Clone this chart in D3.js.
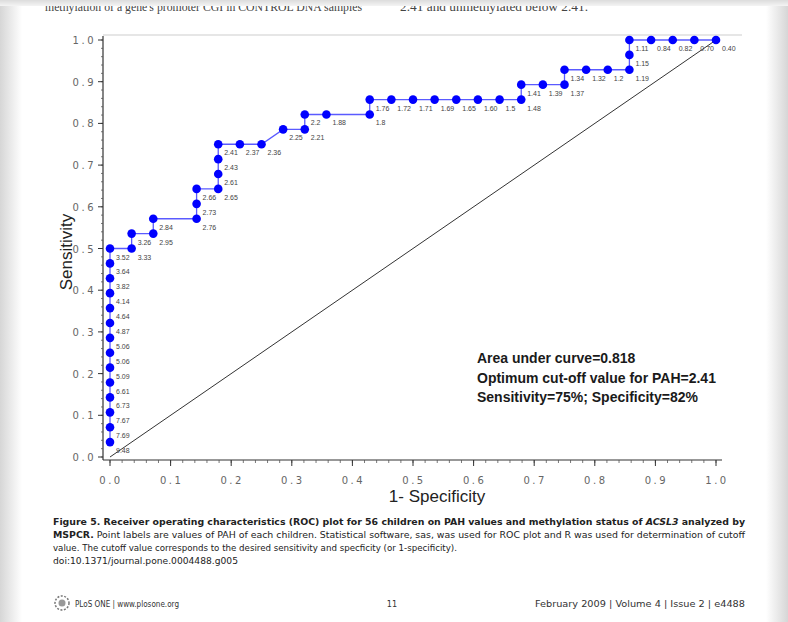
<!DOCTYPE html>
<html>
<head>
<meta charset="utf-8">
<script src="https://cdn.jsdelivr.net/npm/d3@7/dist/d3.min.js"></script>
<style>
html,body{margin:0;padding:0;background:#fff;}
svg{display:block;}
</style>
</head>
<body>
<svg id="chart" width="788" height="622"></svg>
<script>
// ---- data ----
const fpr = [0,0,0,0,0,0,0,0,0,0,0,0,0,0,
  0.0357,0.0357,0.0714,0.0714,0.1429,0.1429,0.1429,0.1786,0.1786,0.1786,0.1786,
  0.2143,0.25,0.2857,0.3214,0.3214,0.3571,0.4286,0.4286,0.4643,0.5,0.5357,0.5714,
  0.6071,0.6429,0.6786,0.6786,0.7143,0.75,0.75,0.7857,0.8214,0.8571,0.8571,0.8571,
  0.8929,0.9286,0.9643,1.0];
const tpr = [0.0357,0.0714,0.1071,0.1429,0.1786,0.2143,0.25,0.2857,0.3214,0.3571,0.3929,0.4286,0.4643,0.5,
  0.5,0.5357,0.5357,0.5714,0.5714,0.6071,0.6429,0.6429,0.6786,0.7143,0.75,
  0.75,0.75,0.7857,0.7857,0.8214,0.8214,0.8214,0.8571,0.8571,0.8571,0.8571,0.8571,
  0.8571,0.8571,0.8571,0.8929,0.8929,0.8929,0.9286,0.9286,0.9286,0.9286,0.9643,1.0,
  1.0,1.0,1.0,1.0];
const pahLabels = ["9.48","7.69","7.67","6.73","6.61","5.09","5.06","5.06","4.87","4.64","4.14","3.82","3.64","3.52",
  "3.33","3.26","2.95","2.84","2.76","2.73","2.66","2.65","2.61","2.43","2.41",
  "2.37","2.36","2.25","2.21","2.2","1.88","1.8","1.76","1.72","1.71","1.69","1.65",
  "1.60","1.5","1.48","1.41","1.39","1.37","1.34","1.32","1.2","1.19","1.15","1.11",
  "0.84","0.82","0.70","0.40"];
const xTicks = [0,0.1,0.2,0.3,0.4,0.5,0.6,0.7,0.8,0.9,1.0];
const yTicks = [0,0.1,0.2,0.3,0.4,0.5,0.6,0.7,0.8,0.9,1.0];
const xTitle = "1- Specificity";
const yTitle = "Sensitivity";
const notes = ["Area under curve=0.818","Optimum cut-off value for PAH=2.41","Sensitivity=75%; Specificity=82%"];

const svg = d3.select("#chart");

// ---- page background (scanned PDF look) ----
const defs = svg.append("defs");
const gl = defs.append("linearGradient").attr("id","gl").attr("x1",0).attr("x2",1).attr("y1",0).attr("y2",0);
gl.append("stop").attr("offset",0).attr("stop-color","#d6d6d6");
gl.append("stop").attr("offset",1).attr("stop-color","#ffffff");
const gr = defs.append("linearGradient").attr("id","gr").attr("x1",1).attr("x2",0).attr("y1",0).attr("y2",0);
gr.append("stop").attr("offset",0).attr("stop-color","#d6d6d6");
gr.append("stop").attr("offset",1).attr("stop-color","#ffffff");
const gt = defs.append("linearGradient").attr("id","gt").attr("x1",0).attr("x2",0).attr("y1",0).attr("y2",1);
gt.append("stop").attr("offset",0).attr("stop-color","#dcdcdc");
gt.append("stop").attr("offset",1).attr("stop-color","#f4f4f4");

svg.append("rect").attr("width",788).attr("height",622).attr("fill","#fff");
svg.append("rect").attr("x",0).attr("y",0).attr("width",22).attr("height",622).attr("fill","url(#gl)");
svg.append("rect").attr("x",766).attr("y",0).attr("width",22).attr("height",622).attr("fill","url(#gr)");

// top cut-off text line of the page
svg.append("text").attr("x",45).attr("y",11)
  .attr("font-family","Liberation Serif, serif").attr("font-size",11.5).attr("fill","#444")
  .attr("textLength",317).attr("lengthAdjust","spacingAndGlyphs")
  .text("methylation of a gene's promoter CGI in CONTROL DNA samples");
svg.append("text").attr("x",400).attr("y",11)
  .attr("font-family","Liberation Serif, serif").attr("font-size",11.5).attr("fill","#444")
  .attr("textLength",188).attr("lengthAdjust","spacingAndGlyphs")
  .text("2.41 and unmethylated below 2.41.");
svg.append("rect").attr("x",0).attr("y",0).attr("width",788).attr("height",6).attr("fill","url(#gt)");

// ---- scales ----
const x = d3.scaleLinear().domain([0,1]).range([110,716]);
const y = d3.scaleLinear().domain([0,1]).range([457,40]);

// faint frame line at top
svg.append("line").attr("x1",103).attr("x2",742).attr("y1",35).attr("y2",35)
  .attr("stroke","#e6e6e6").attr("stroke-width",2);

// ---- axes ----
const axisFont = "DejaVu Sans, sans-serif";
const yAxisX = 103, xAxisY = 460;

const yMinor = d3.range(0,1.0001,0.02);
const yAx = svg.append("g");
yAx.append("line").attr("x1",yAxisX).attr("x2",yAxisX).attr("y1",y(1)-4).attr("y2",xAxisY)
  .attr("stroke","#333").attr("stroke-width",1.2);
yAx.selectAll("line.mi").data(yMinor).join("line").attr("class","mi")
  .attr("x1",yAxisX-2).attr("x2",yAxisX).attr("y1",d=>y(d)).attr("y2",d=>y(d))
  .attr("stroke","#555").attr("stroke-width",0.8);
yAx.selectAll("line.ma").data(yTicks).join("line").attr("class","ma")
  .attr("x1",yAxisX-5).attr("x2",yAxisX).attr("y1",d=>y(d)).attr("y2",d=>y(d))
  .attr("stroke","#333").attr("stroke-width",1);
yAx.selectAll("text").data(yTicks).join("text")
  .attr("x",yAxisX-7).attr("y",d=>y(d)+4)
  .attr("text-anchor","end").attr("font-family",axisFont).attr("font-size",10)
  .attr("letter-spacing","2.5px").attr("fill","#666")
  .text(d=>d3.format(".1f")(d));

const xMinor = d3.range(0,1.0001,0.02);
const xAx = svg.append("g");
xAx.append("line").attr("x1",yAxisX).attr("x2",x(1)+6).attr("y1",xAxisY).attr("y2",xAxisY)
  .attr("stroke","#333").attr("stroke-width",1.2);
xAx.selectAll("line.mi").data(xMinor).join("line").attr("class","mi")
  .attr("x1",d=>x(d)).attr("x2",d=>x(d)).attr("y1",xAxisY).attr("y2",xAxisY+3)
  .attr("stroke","#555").attr("stroke-width",0.8);
xAx.selectAll("line.ma").data(xTicks).join("line").attr("class","ma")
  .attr("x1",d=>x(d)).attr("x2",d=>x(d)).attr("y1",xAxisY).attr("y2",xAxisY+6)
  .attr("stroke","#333").attr("stroke-width",1);
xAx.selectAll("text").data(xTicks).join("text")
  .attr("x",d=>x(d)+1).attr("y",xAxisY+24)
  .attr("text-anchor","middle").attr("font-family",axisFont).attr("font-size",10)
  .attr("letter-spacing","2.5px").attr("fill","#666")
  .text(d=>d3.format(".1f")(d));

// axis titles
svg.append("text").attr("x",437).attr("y",502).attr("text-anchor","middle")
  .attr("font-family","Liberation Sans, Arial, sans-serif").attr("font-size",17).attr("fill","#222")
  .text(xTitle);
svg.append("text").attr("transform","translate(72,252) rotate(-90)").attr("text-anchor","middle")
  .attr("font-family","Liberation Sans, Arial, sans-serif").attr("font-size",17).attr("fill","#222")
  .text(yTitle);

// ---- diagonal reference ----
svg.append("line").attr("x1",x(0)).attr("y1",y(0)).attr("x2",x(1)).attr("y2",y(1))
  .attr("stroke","#333").attr("stroke-width",1);

// ---- ROC curve ----
const pts = fpr.map((f,i)=>({f, t:tpr[i], lab:pahLabels[i]}));
const line = d3.line().x(d=>x(d.f)).y(d=>y(d.t));
svg.append("path").datum(pts).attr("d",line).attr("fill","none")
  .attr("stroke","#5a5aff").attr("stroke-width",1.3);
svg.selectAll("circle.pt").data(pts).join("circle").attr("class","pt")
  .attr("cx",d=>x(d.f)).attr("cy",d=>y(d.t)).attr("r",4.3).attr("fill","#0000ff");
svg.selectAll("text.pl").data(pts).join("text").attr("class","pl")
  .attr("x",d=>x(d.f)+6).attr("y",d=>y(d.t)+11)
  .attr("font-family","Liberation Sans, Arial, sans-serif").attr("font-size",7)
  .attr("fill","#444").text(d=>d.lab);

// ---- annotation ----
svg.selectAll("text.note").data(notes).join("text").attr("class","note")
  .attr("x",477).attr("y",(d,i)=>363+i*19.5)
  .attr("font-family","Liberation Sans, Arial, sans-serif").attr("font-weight","bold")
  .attr("font-size",14).attr("fill","#1a1a1a").text(d=>d);

// ---- caption ----
const capFont = "Liberation Sans Narrow, DejaVu Sans Condensed, Arial, sans-serif";
const c1 = svg.append("text").attr("x",53).attr("y",525).attr("font-family",capFont)
  .attr("font-size",9).attr("fill","#222").attr("font-weight","bold")
  .attr("textLength",692).attr("lengthAdjust","spacingAndGlyphs");
c1.append("tspan").text("Figure 5. Receiver operating characteristics (ROC) plot for 56 children on PAH values and methylation status of ");
c1.append("tspan").attr("font-style","italic").text("ACSL3");
c1.append("tspan").text(" analyzed by");
const c2 = svg.append("text").attr("x",53).attr("y",538).attr("font-family",capFont)
  .attr("font-size",9).attr("fill","#222")
  .attr("textLength",692).attr("lengthAdjust","spacingAndGlyphs");
c2.append("tspan").attr("font-weight","bold").text("MSPCR.");
c2.append("tspan").text(" Point labels are values of PAH of each children. Statistical software, sas, was used for ROC plot and R was used for determination of cutoff");
svg.append("text").attr("x",53).attr("y",551).attr("font-family",capFont)
  .attr("font-size",9).attr("fill","#222")
  .attr("textLength",404).attr("lengthAdjust","spacingAndGlyphs")
  .text("value. The cutoff value corresponds to the desired sensitivity and specficity (or 1-specificity).");
svg.append("text").attr("x",53).attr("y",564).attr("font-family",capFont)
  .attr("font-size",9).attr("fill","#222")
  .attr("textLength",185).attr("lengthAdjust","spacingAndGlyphs")
  .text("doi:10.1371/journal.pone.0004488.g005");

// ---- footer ----
const logo = svg.append("g").attr("transform","translate(62,603)");
logo.append("circle").attr("r",7).attr("fill","none").attr("stroke","#777").attr("stroke-width",1.5)
  .attr("stroke-dasharray","2,1.5");
logo.append("circle").attr("r",3.5).attr("fill","#999");
svg.append("text").attr("x",75).attr("y",607).attr("font-family",capFont).attr("font-size",9)
  .attr("fill","#333").attr("textLength",104).attr("lengthAdjust","spacingAndGlyphs")
  .text("PLoS ONE | www.plosone.org");
svg.append("text").attr("x",392).attr("y",607).attr("text-anchor","middle").attr("font-family",capFont)
  .attr("font-size",9).attr("fill","#333").text("11");
svg.append("text").attr("x",745).attr("y",607).attr("text-anchor","end").attr("font-family",capFont)
  .attr("font-size",9).attr("fill","#333").attr("textLength",210).attr("lengthAdjust","spacingAndGlyphs")
  .text("February 2009 | Volume 4 | Issue 2 | e4488");
</script>
</body>
</html>
